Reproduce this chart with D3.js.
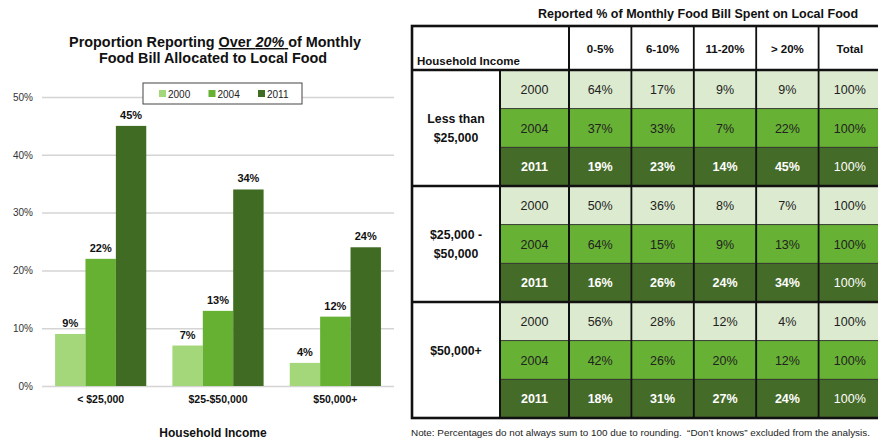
<!DOCTYPE html>
<html>
<head>
<meta charset="utf-8">
<script src="https://cdn.jsdelivr.net/npm/d3@7"></script>
<style>
  body { margin: 0; background: #fff; }
  svg { font-family: "Liberation Sans", Arial, sans-serif; display: block; }
</style>
</head>
<body>
<div id="canvas"></div>
<script>
"use strict"

// ---- bar chart data ----
let incomeGroups = ["< $25,000", "$25-$50,000", "$50,000+"];
let years = ["2000", "2004", "2011"];
let over20_2000 = [9, 7, 4];
let over20_2004 = [22, 13, 12];
let over20_2011 = [45, 34, 24];
let yTicks = [0, 10, 20, 30, 40, 50];

// ---- table data ----
let tableGroups = [["Less than", "$25,000"], ["$25,000 -", "$50,000"], ["$50,000+", ""]];
let spendBins = ["0-5%", "6-10%", "11-20%", "> 20%", "Total"];
let under25Rows = [[64, 17, 9, 9, 100], [37, 33, 7, 22, 100], [19, 23, 14, 45, 100]];
let midRows = [[50, 36, 8, 7, 100], [64, 15, 9, 13, 100], [16, 26, 24, 34, 100]];
let over50Rows = [[56, 28, 12, 4, 100], [42, 26, 20, 12, 100], [18, 31, 27, 24, 100]];

let barColors = { "2000": "#a3d77a", "2004": "#66b032", "2011": "#3f6b22" };
let rowColors = { "2000": "#dceacf", "2004": "#67b134", "2011": "#456b28" };

let drawing = d3.select("#canvas")
    .append("svg")
    .attr("width", 878)
    .attr("height", 440);

/* ================= LEFT: grouped bar chart ================= */

let seriesByYear = { "2000": over20_2000, "2004": over20_2004, "2011": over20_2011 };

let x0 = d3.scaleBand()
    .domain(incomeGroups)
    .range([42, 394]);

let x1 = d3.scaleBand()
    .domain(years)
    .range([0, x0.bandwidth()])
    .paddingOuter(0.43);

let y = d3.scaleLinear()
    .domain([0, 50])
    .range([386, 97]);

// title
let chartTitle = drawing.append("text")
    .attr("x", 215)
    .attr("y", 47)
    .attr("text-anchor", "middle")
    .attr("font-size", 14.4)
    .attr("font-weight", "bold")
    .attr("fill", "#111");
chartTitle.append("tspan").text("Proportion Reporting ");
chartTitle.append("tspan").attr("text-decoration", "underline").text("Over ");
chartTitle.append("tspan").attr("text-decoration", "underline").attr("font-style", "italic").text("20%");
chartTitle.append("tspan").attr("text-decoration", "underline").text("\u00a0");
chartTitle.append("tspan").text("of Monthly");

drawing.append("text")
    .attr("x", 213)
    .attr("y", 63)
    .attr("text-anchor", "middle")
    .attr("font-size", 14.4)
    .attr("font-weight", "bold")
    .attr("fill", "#111")
    .text("Food Bill Allocated to Local Food");

// gridlines + y labels
let yAxis = drawing.append("g")
    .attr("transform", "translate(42,0)")
    .call(d3.axisLeft(y)
        .tickValues(yTicks)
        .tickSize(-352)
        .tickPadding(9)
        .tickFormat(d => d + "%"));
yAxis.select(".domain").remove();
yAxis.selectAll(".tick line")
    .attr("stroke", "#d4d4d4")
    .attr("stroke-width", 1.5);
yAxis.selectAll(".tick text")
    .attr("font-size", 10)
    .attr("fill", "#333")
    .attr("font-family", "Liberation Sans, Arial, sans-serif");

// bars
let groups = drawing.append("g")
    .selectAll("g")
    .data(incomeGroups)
    .join("g")
    .attr("transform", d => "translate(" + x0(d) + ",0)");

groups.selectAll("rect")
    .data((d, i) => years.map(yr => ({ year: yr, value: seriesByYear[yr][i] })))
    .join("rect")
    .attr("x", d => x1(d.year))
    .attr("y", d => y(d.value))
    .attr("width", x1.bandwidth())
    .attr("height", d => y(0) - y(d.value))
    .attr("fill", d => barColors[d.year]);

groups.selectAll("text.val")
    .data((d, i) => years.map(yr => ({ year: yr, value: seriesByYear[yr][i] })))
    .join("text")
    .attr("class", "val")
    .attr("x", d => x1(d.year) + x1.bandwidth() / 2)
    .attr("y", d => y(d.value) - 7)
    .attr("text-anchor", "middle")
    .attr("font-size", 11)
    .attr("font-weight", "bold")
    .attr("fill", "#111")
    .text(d => d.value + "%");

// category labels
let xAxis = drawing.append("g")
    .attr("transform", "translate(0,386)")
    .call(d3.axisBottom(x0).tickSize(0).tickPadding(10));
xAxis.select(".domain").remove();
xAxis.selectAll(".tick text")
    .attr("font-size", 10.5)
    .attr("font-weight", "bold")
    .attr("fill", "#111")
    .attr("font-family", "Liberation Sans, Arial, sans-serif");

drawing.append("text")
    .attr("x", 213)
    .attr("y", 437)
    .attr("text-anchor", "middle")
    .attr("font-size", 12)
    .attr("font-weight", "bold")
    .attr("fill", "#111")
    .text("Household Income");

// legend
let legend = drawing.append("g").attr("transform", "translate(143,83)");
legend.append("rect")
    .attr("width", 159)
    .attr("height", 21)
    .attr("fill", "#fff")
    .attr("stroke", "#444")
    .attr("stroke-width", 1);
let legendX = d3.scalePoint().domain(years).range([16, 115]);
let legendItems = legend.selectAll("g")
    .data(years)
    .join("g")
    .attr("transform", d => "translate(" + legendX(d) + ",0)");
legendItems.append("rect")
    .attr("y", 7)
    .attr("width", 7)
    .attr("height", 7)
    .attr("fill", d => barColors[d]);
legendItems.append("text")
    .attr("x", 9)
    .attr("y", 14.5)
    .attr("font-size", 10)
    .attr("fill", "#222")
    .text(d => d);

/* ================= RIGHT: table ================= */

let allRows = [under25Rows, midRows, over50Rows];
let tableLeft = 412, groupColRight = 500, yearColRight = 569, tableRight = 881;
let headerTop = 26, headerBottom = 70, tableBottom = 418;

let colX = d3.scaleBand()
    .domain(spendBins)
    .range([yearColRight, tableRight]);

let rowY = d3.scaleBand()
    .domain(d3.range(9))
    .range([headerBottom, tableBottom]);

drawing.append("text")
    .attr("x", 698)
    .attr("y", 18)
    .attr("text-anchor", "middle")
    .attr("font-size", 12.5)
    .attr("font-weight", "bold")
    .attr("fill", "#111")
    .text("Reported % of Monthly Food Bill Spent on Local Food");

let table = drawing.append("g");

// flattened cells
let cellData = [];
allRows.forEach((rows, g) => {
    rows.forEach((vals, r) => {
        let idx = g * 3 + r;
        cellData.push({ row: idx, year: years[r], col: "year", text: years[r] });
        vals.forEach((v, c) => {
            cellData.push({ row: idx, year: years[r], col: spendBins[c], text: v + "%" });
        });
    });
});

function cellX(d) { return d.col === "year" ? groupColRight : colX(d.col); }
function cellW(d) { return d.col === "year" ? yearColRight - groupColRight : colX.bandwidth(); }

table.selectAll("rect.cell")
    .data(cellData)
    .join("rect")
    .attr("class", "cell")
    .attr("x", cellX)
    .attr("y", d => rowY(d.row))
    .attr("width", cellW)
    .attr("height", rowY.bandwidth())
    .attr("fill", d => rowColors[d.year])
    .attr("stroke", "#333")
    .attr("stroke-width", 0.8);

table.selectAll("text.cell")
    .data(cellData)
    .join("text")
    .attr("class", "cell")
    .attr("x", d => cellX(d) + cellW(d) / 2)
    .attr("y", d => rowY(d.row) + rowY.bandwidth() / 2 + 4.5)
    .attr("text-anchor", "middle")
    .attr("font-size", 12.5)
    .attr("font-weight", d => (d.year === "2011" && d.col !== "Total") ? "bold" : "normal")
    .attr("fill", d => d.year === "2011" ? "#fff" : "#222")
    .text(d => d.text);

// vertical lines between data columns
table.selectAll("line.vcol")
    .data(spendBins)
    .join("line")
    .attr("class", "vcol")
    .attr("x1", d => colX(d))
    .attr("x2", d => colX(d))
    .attr("y1", headerTop)
    .attr("y2", tableBottom)
    .attr("stroke", "#111")
    .attr("stroke-width", 1.8);

// header cells
table.selectAll("text.head")
    .data(spendBins)
    .join("text")
    .attr("class", "head")
    .attr("x", d => colX(d) + colX.bandwidth() / 2)
    .attr("y", 53)
    .attr("text-anchor", "middle")
    .attr("font-size", 11.5)
    .attr("font-weight", "bold")
    .attr("fill", "#111")
    .text(d => d);

table.append("text")
    .attr("x", 417)
    .attr("y", 65)
    .attr("font-size", 11.5)
    .attr("font-weight", "bold")
    .attr("fill", "#111")
    .text("Household Income");

// group label cells
let groupY = d3.scaleBand()
    .domain(d3.range(3))
    .range([headerBottom, tableBottom]);

table.selectAll("rect.grp")
    .data(tableGroups)
    .join("rect")
    .attr("class", "grp")
    .attr("x", tableLeft)
    .attr("y", (d, i) => groupY(i))
    .attr("width", groupColRight - tableLeft)
    .attr("height", groupY.bandwidth())
    .attr("fill", "#fff");

let groupLabels = table.selectAll("text.grp")
    .data(tableGroups)
    .join("text")
    .attr("class", "grp")
    .attr("text-anchor", "middle")
    .attr("font-size", 12.3)
    .attr("font-weight", "bold")
    .attr("fill", "#111");
groupLabels.selectAll("tspan")
    .data((d, i) => d.map(t => ({ t: t, g: i })))
    .join("tspan")
    .attr("x", (tableLeft + groupColRight) / 2)
    .attr("y", (d, k) => groupY(d.g) + groupY.bandwidth() / 2 - 5 + k * 19)
    .text(d => d.t);

// thick group separators & outer border
table.selectAll("line.gsep")
    .data(d3.range(1, 3))
    .join("line")
    .attr("class", "gsep")
    .attr("x1", tableLeft)
    .attr("x2", tableRight)
    .attr("y1", d => groupY(d))
    .attr("y2", d => groupY(d))
    .attr("stroke", "#111")
    .attr("stroke-width", 2.6);

table.append("line")
    .attr("x1", tableLeft).attr("x2", tableRight)
    .attr("y1", headerBottom).attr("y2", headerBottom)
    .attr("stroke", "#111").attr("stroke-width", 2.6);

table.append("line")
    .attr("x1", groupColRight).attr("x2", groupColRight)
    .attr("y1", headerBottom).attr("y2", tableBottom)
    .attr("stroke", "#111").attr("stroke-width", 2);

table.append("line")
    .attr("x1", yearColRight).attr("x2", yearColRight)
    .attr("y1", headerTop).attr("y2", tableBottom)
    .attr("stroke", "#111").attr("stroke-width", 2);

table.append("rect")
    .attr("x", tableLeft)
    .attr("y", headerTop)
    .attr("width", tableRight - tableLeft)
    .attr("height", tableBottom - headerTop)
    .attr("fill", "none")
    .attr("stroke", "#111")
    .attr("stroke-width", 2.6);

drawing.append("text")
    .attr("x", 411)
    .attr("y", 436)
    .attr("font-size", 9.9)
    .attr("fill", "#222")
    .attr("xml:space", "preserve")
    .text("Note: Percentages do not always sum to 100 due to rounding.  \u201cDon\u2019t knows\u201d excluded from the analysis.");
</script>
</body>
</html>
